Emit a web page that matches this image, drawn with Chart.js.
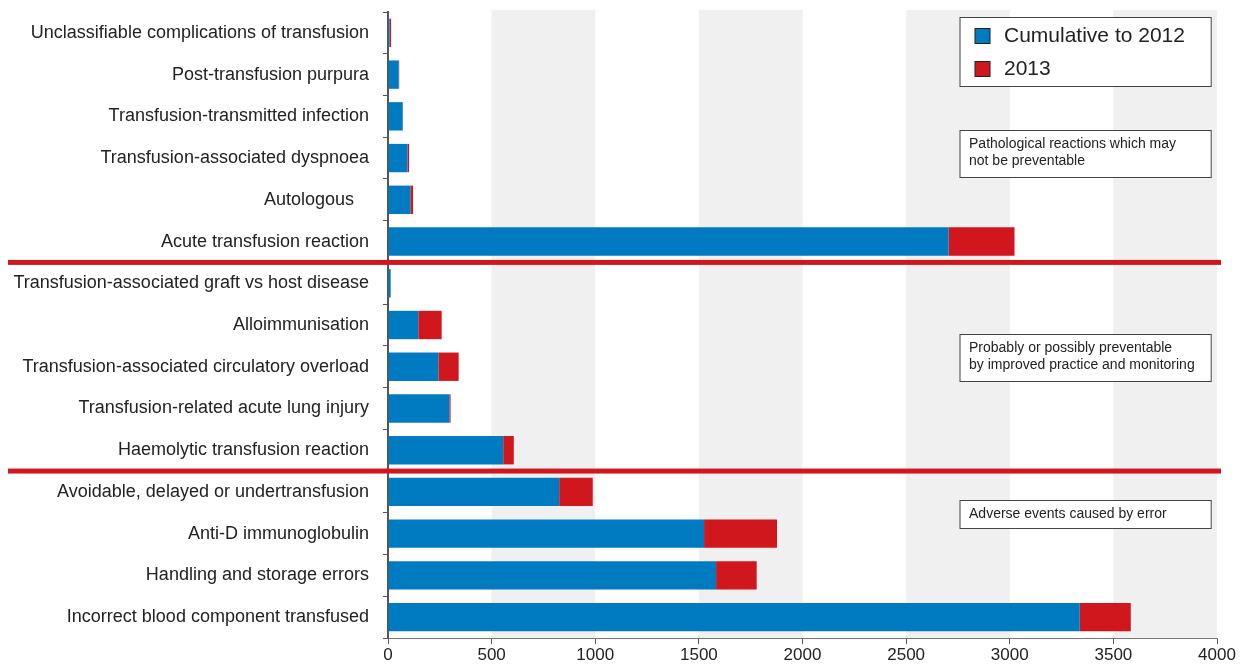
<!DOCTYPE html>
<html>
<head>
<meta charset="utf-8">
<script src="https://cdn.jsdelivr.net/npm/chart.js@4/dist/chart.umd.min.js"></script>
<style>
  html, body { margin: 0; padding: 0; background: #fff; }
  #wrap { width: 1242px; height: 664px; }
</style>
</head>
<body>
<div id="wrap"><canvas id="chart" width="1242" height="664"></canvas></div>
<script>
// categories, top to bottom
var categories = [
  "Unclassifiable complications of transfusion",
  "Post-transfusion purpura",
  "Transfusion-transmitted infection",
  "Transfusion-associated dyspnoea",
  "Autologous   ",
  "Acute transfusion reaction",
  "Transfusion-associated graft vs host disease",
  "Alloimmunisation",
  "Transfusion-associated circulatory overload",
  "Transfusion-related acute lung injury",
  "Haemolytic transfusion reaction",
  "Avoidable, delayed or undertransfusion",
  "Anti-D immunoglobulin",
  "Handling and storage errors",
  "Incorrect blood component transfused"
];
var cumulative2012 = [8, 52, 71, 94, 108, 2705, 13, 146, 243, 296, 556, 826, 1525, 1583, 3338];
var year2013 = [7, 2, 1, 8, 13, 318, 0, 113, 98, 6, 51, 162, 352, 196, 246];
var xTicks = [0, 500, 1000, 1500, 2000, 2500, 3000, 3500, 4000];
var groupBreaks = [5, 10]; // separator below these category indexes
var groupNotes = [
  { row: 2.88, lines: ["Pathological reactions which may", "not be preventable"] },
  { row: 7.77, lines: ["Probably or possibly preventable", "by improved practice and monitoring"] },
  { row: 11.54, lines: ["Adverse events caused by error"] }
];

var BLUE = "#007bc2";
var RED = "#d0171e";
var FONT = "'Liberation Sans', Arial, sans-serif";

var bandsPlugin = {
  id: "bands",
  beforeDatasetsDraw: function(chart) {
    var ctx = chart.ctx, x = chart.scales.x, area = chart.chartArea;
    ctx.save();
    ctx.fillStyle = "#f0f0f0";
    for (var i = 1; i < xTicks.length; i += 2) {
      var l = x.getPixelForValue(xTicks[i]);
      var r = x.getPixelForValue(xTicks[i + 1] || xTicks[i] + 500);
      ctx.fillRect(l, area.top - 2, r - l, area.bottom - area.top + 2);
    }
    ctx.restore();
  }
};

var overlayPlugin = {
  id: "overlay",
  afterDraw: function(chart) {
    var ctx = chart.ctx, x = chart.scales.x, y = chart.scales.y;
    ctx.save();
    // red group separators
    ctx.fillStyle = RED;
    groupBreaks.forEach(function(b) {
      var yy = (y.getPixelForValue(b) + y.getPixelForValue(b + 1)) / 2;
      ctx.fillRect(8, yy - 2.5, 1213, 5);
    });

    var boxL = x.getPixelForValue(2760), boxR = x.getPixelForValue(3972);

    // notes
    ctx.font = "14px " + FONT;
    ctx.textBaseline = "middle";
    groupNotes.forEach(function(n) {
      var cy = y.getPixelForValue(n.row);
      var h = n.lines.length > 1 ? 47 : 28;
      var top = Math.round(cy - h / 2) + 0.5;
      ctx.fillStyle = "#fff";
      ctx.fillRect(boxL, top, boxR - boxL, h);
      ctx.strokeStyle = "#444";
      ctx.lineWidth = 1;
      ctx.strokeRect(boxL, top, boxR - boxL, h);
      ctx.fillStyle = "#222";
      n.lines.forEach(function(t, i) {
        ctx.fillText(t, boxL + 9, top + 14 + i * 17);
      });
    });

    // legend
    var lt = Math.round(y.getPixelForValue(0) - 16) + 0.5;
    var lh = 69;
    ctx.fillStyle = "#fff";
    ctx.fillRect(boxL, lt, boxR - boxL, lh);
    ctx.strokeStyle = "#444";
    ctx.strokeRect(boxL, lt, boxR - boxL, lh);
    var items = [[BLUE, "Cumulative to 2012"], [RED, "2013"]];
    ctx.font = "21px " + FONT;
    items.forEach(function(it, i) {
      var cy = lt + 18 + i * 33;
      ctx.fillStyle = it[0];
      ctx.fillRect(boxL + 15, cy - 7, 15, 15);
      ctx.strokeStyle = "#222";
      ctx.strokeRect(boxL + 15, cy - 7, 15, 15);
      ctx.fillStyle = "#222";
      ctx.fillText(it[1], boxL + 44, cy + 1);
    });
    ctx.restore();
  }
};

new Chart(document.getElementById("chart"), {
  type: "bar",
  data: {
    labels: categories,
    datasets: [
      { label: "Cumulative to 2012", data: cumulative2012, backgroundColor: BLUE },
      { label: "2013", data: year2013, backgroundColor: RED }
    ]
  },
  options: {
    indexAxis: "y",
    responsive: false,
    animation: false,
    layout: { padding: { top: 12, right: 25, left: 0, bottom: 0 } },
    datasets: { bar: { categoryPercentage: 1, barPercentage: 0.68, borderWidth: 0 } },
    plugins: { legend: { display: false }, tooltip: { enabled: false } },
    scales: {
      x: {
        stacked: true,
        min: 0, max: 4000,
        afterBuildTicks: function(s) { s.ticks = xTicks.map(function(v) { return { value: v }; }); },
        afterFit: function(s) { s.height = 26; },
        grid: { drawOnChartArea: false, drawTicks: true, tickLength: 6, color: "#555" },
        border: { color: "#777", width: 1 },
        ticks: {
          color: "#222", font: { family: FONT, size: 17 }, padding: 1, maxRotation: 0,
          callback: function(v) { return String(v); }
        }
      },
      y: {
        stacked: true,
        afterFit: function(s) { s.width = 388; s.paddingTop = 0; s.paddingBottom = 0; },
        grid: { drawOnChartArea: false, tickLength: 5, color: "#555", offset: true },
        border: { color: "#555", width: 2 },
        ticks: { color: "#222", font: { family: FONT, size: 18 }, padding: 14, autoSkip: false }
      }
    }
  },
  plugins: [bandsPlugin, overlayPlugin]
});
</script>
</body>
</html>
